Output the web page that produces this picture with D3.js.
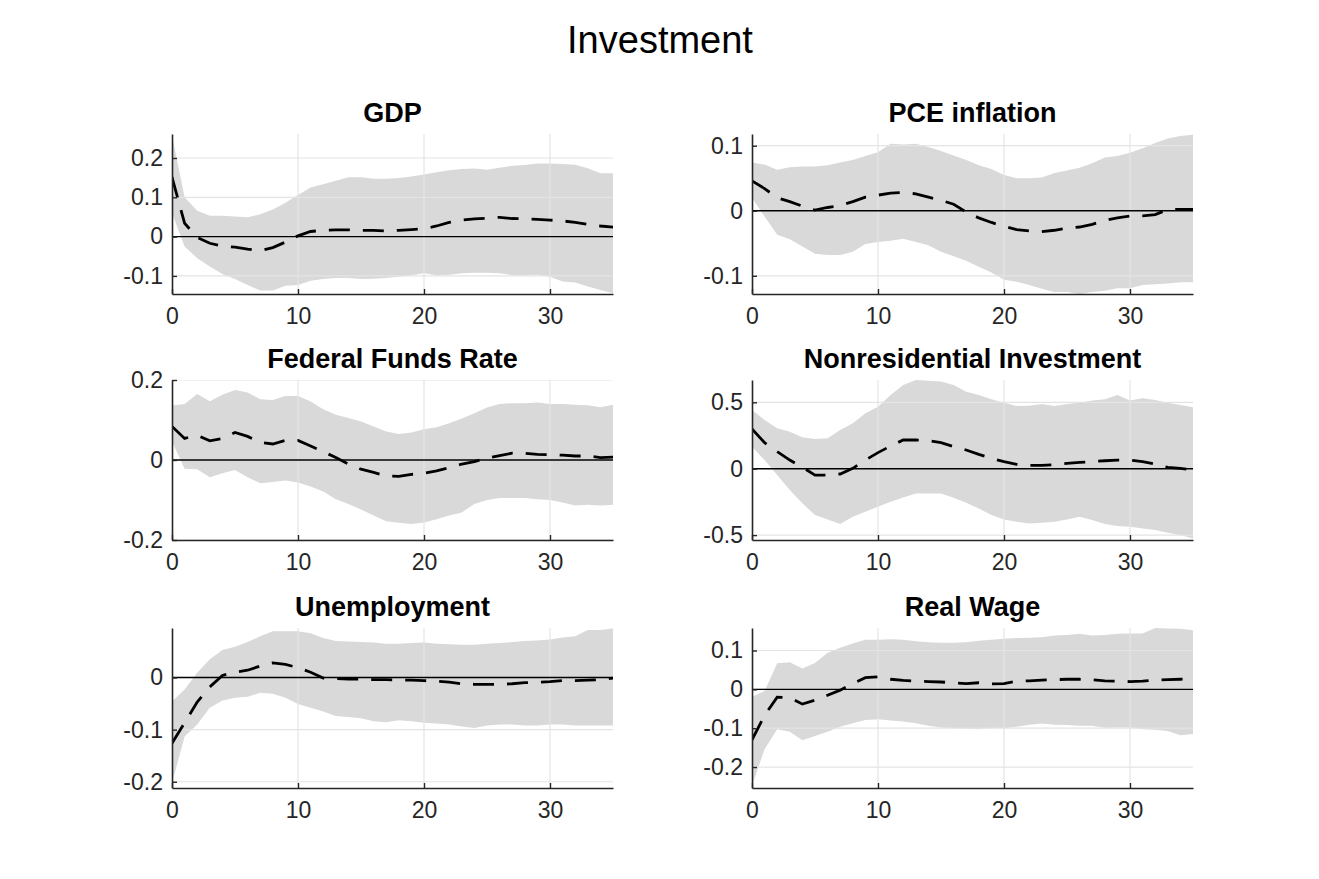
<!DOCTYPE html>
<html>
<head>
<meta charset="utf-8">
<script src="https://cdn.jsdelivr.net/npm/d3@7"></script>
<style>
  html, body { margin: 0; padding: 0; background: #ffffff; }
  svg { display: block; }
  text { font-family: "Liberation Sans", Arial, Helvetica, sans-serif; }
</style>
</head>
<body>
<svg id="chart" width="1319" height="879"></svg>
<script>
// ---------------- DATA ----------------
const figureTitle = "Investment";
const horizons = [0,1,2,3,4,5,6,7,8,9,10,11,12,13,14,15,16,17,18,19,20,21,22,23,24,25,26,27,28,29,30,31,32,33,34,35];
const xTicks = [0, 10, 20, 30];

const panelTitles = ["GDP", "PCE inflation", "Federal Funds Rate", "Nonresidential Investment", "Unemployment", "Real Wage"];

// GDP
const gdpMed = [0.151,0.034,-0.002,-0.017,-0.024,-0.027,-0.032,-0.036,-0.028,-0.014,0.002,0.013,0.016,0.017,0.017,0.016,0.016,0.014,0.016,0.018,0.020,0.027,0.036,0.042,0.045,0.047,0.049,0.046,0.045,0.044,0.042,0.040,0.036,0.031,0.027,0.024];
const gdpLo  = [0.060,-0.025,-0.055,-0.076,-0.095,-0.108,-0.123,-0.137,-0.137,-0.125,-0.123,-0.112,-0.108,-0.105,-0.105,-0.108,-0.107,-0.105,-0.102,-0.098,-0.093,-0.098,-0.097,-0.093,-0.092,-0.092,-0.093,-0.098,-0.098,-0.097,-0.102,-0.114,-0.117,-0.127,-0.136,-0.144];
const gdpHi  = [0.258,0.100,0.066,0.053,0.053,0.051,0.049,0.057,0.069,0.086,0.106,0.125,0.133,0.142,0.151,0.151,0.147,0.147,0.149,0.153,0.158,0.164,0.169,0.172,0.173,0.170,0.175,0.180,0.182,0.186,0.186,0.185,0.183,0.174,0.161,0.161];

// PCE inflation
const pceMed = [0.046,0.034,0.020,0.014,0.007,0.001,0.005,0.008,0.014,0.021,0.024,0.027,0.028,0.026,0.021,0.016,0.010,-0.002,-0.011,-0.018,-0.024,-0.029,-0.031,-0.032,-0.030,-0.027,-0.025,-0.021,-0.015,-0.011,-0.008,-0.008,-0.006,0.002,0.002,0.002];
const pceLo  = [0.020,-0.009,-0.037,-0.044,-0.055,-0.066,-0.068,-0.068,-0.063,-0.051,-0.048,-0.046,-0.043,-0.048,-0.053,-0.063,-0.070,-0.077,-0.086,-0.095,-0.106,-0.109,-0.114,-0.120,-0.125,-0.125,-0.128,-0.125,-0.123,-0.119,-0.119,-0.114,-0.113,-0.112,-0.110,-0.110];
const pceHi  = [0.074,0.071,0.063,0.067,0.068,0.068,0.070,0.074,0.078,0.084,0.090,0.103,0.102,0.103,0.098,0.092,0.085,0.078,0.070,0.064,0.055,0.050,0.050,0.051,0.058,0.062,0.066,0.073,0.082,0.084,0.089,0.096,0.104,0.111,0.115,0.117];

// Federal Funds Rate
const ffrMed = [0.084,0.054,0.062,0.048,0.054,0.069,0.059,0.044,0.040,0.049,0.049,0.035,0.021,0.006,-0.010,-0.023,-0.031,-0.040,-0.041,-0.036,-0.033,-0.027,-0.019,-0.010,-0.004,0.005,0.011,0.017,0.017,0.014,0.013,0.012,0.010,0.010,0.006,0.007];
const ffrLo  = [0.046,-0.022,-0.023,-0.043,-0.033,-0.025,-0.043,-0.058,-0.055,-0.051,-0.056,-0.066,-0.079,-0.098,-0.110,-0.124,-0.139,-0.153,-0.157,-0.160,-0.156,-0.148,-0.139,-0.131,-0.110,-0.100,-0.095,-0.095,-0.095,-0.098,-0.100,-0.106,-0.114,-0.112,-0.114,-0.112];
const ffrHi  = [0.136,0.140,0.165,0.147,0.163,0.175,0.169,0.152,0.150,0.160,0.160,0.146,0.127,0.113,0.105,0.096,0.084,0.071,0.065,0.069,0.077,0.082,0.092,0.104,0.117,0.131,0.140,0.142,0.142,0.144,0.140,0.140,0.138,0.137,0.132,0.138];

// Nonresidential Investment
const nriMed = [0.299,0.196,0.128,0.065,0.010,-0.048,-0.048,-0.040,0.003,0.065,0.121,0.171,0.216,0.216,0.211,0.196,0.166,0.141,0.108,0.078,0.053,0.033,0.025,0.025,0.030,0.040,0.048,0.053,0.060,0.065,0.065,0.053,0.035,0.010,0.003,-0.010];
const nriLo  = [0.166,0.065,-0.048,-0.161,-0.261,-0.349,-0.382,-0.417,-0.362,-0.324,-0.286,-0.249,-0.216,-0.186,-0.186,-0.186,-0.219,-0.256,-0.299,-0.349,-0.382,-0.400,-0.412,-0.407,-0.400,-0.382,-0.362,-0.387,-0.417,-0.432,-0.437,-0.450,-0.462,-0.482,-0.500,-0.525];
const nriHi  = [0.442,0.367,0.304,0.279,0.236,0.224,0.229,0.291,0.342,0.417,0.467,0.555,0.630,0.668,0.663,0.656,0.630,0.580,0.555,0.523,0.497,0.472,0.475,0.487,0.472,0.487,0.497,0.513,0.523,0.555,0.513,0.530,0.518,0.497,0.480,0.462];

// Unemployment
const unMed = [-0.126,-0.087,-0.047,-0.018,0.004,0.010,0.014,0.022,0.028,0.025,0.019,0.010,-0.001,-0.002,-0.003,-0.003,-0.004,-0.004,-0.005,-0.005,-0.006,-0.007,-0.009,-0.012,-0.013,-0.013,-0.013,-0.012,-0.010,-0.009,-0.008,-0.006,-0.006,-0.005,-0.004,-0.001];
const unLo  = [-0.203,-0.113,-0.090,-0.058,-0.044,-0.039,-0.037,-0.029,-0.031,-0.039,-0.051,-0.058,-0.065,-0.074,-0.076,-0.078,-0.084,-0.086,-0.082,-0.084,-0.087,-0.088,-0.090,-0.094,-0.097,-0.092,-0.090,-0.090,-0.092,-0.092,-0.090,-0.090,-0.092,-0.092,-0.092,-0.092];
const unHi  = [-0.046,-0.023,0.009,0.035,0.053,0.059,0.068,0.079,0.089,0.089,0.089,0.085,0.076,0.070,0.069,0.068,0.067,0.065,0.065,0.066,0.067,0.065,0.064,0.063,0.063,0.065,0.066,0.068,0.070,0.071,0.073,0.077,0.079,0.091,0.091,0.094];

// Real Wage
const rwMed = [-0.130,-0.067,-0.020,-0.021,-0.038,-0.028,-0.015,-0.002,0.015,0.030,0.032,0.026,0.023,0.021,0.020,0.019,0.017,0.015,0.017,0.014,0.015,0.021,0.022,0.024,0.025,0.026,0.026,0.025,0.022,0.021,0.020,0.021,0.024,0.025,0.026,0.027];
const rwLo  = [-0.248,-0.154,-0.103,-0.109,-0.131,-0.120,-0.109,-0.096,-0.087,-0.079,-0.077,-0.080,-0.083,-0.087,-0.094,-0.098,-0.100,-0.101,-0.103,-0.099,-0.100,-0.096,-0.091,-0.088,-0.091,-0.092,-0.094,-0.094,-0.099,-0.098,-0.098,-0.103,-0.104,-0.107,-0.118,-0.115];
const rwHi  = [-0.019,-0.004,0.067,0.070,0.054,0.068,0.094,0.107,0.118,0.128,0.128,0.129,0.128,0.124,0.121,0.120,0.120,0.121,0.125,0.128,0.130,0.132,0.133,0.134,0.139,0.140,0.143,0.139,0.140,0.143,0.144,0.144,0.158,0.157,0.156,0.152];

// y-axis limits and ticks of each panel
const yDomains = [[-0.146, 0.261], [-0.128, 0.118], [-0.2, 0.2], [-0.537, 0.668], [-0.212, 0.095], [-0.254, 0.158]];
const yTicks = [[-0.1, 0, 0.1, 0.2], [-0.1, 0, 0.1], [-0.2, 0, 0.2], [-0.5, 0, 0.5], [-0.2, -0.1, 0], [-0.2, -0.1, 0, 0.1]];

const medians = [gdpMed, pceMed, ffrMed, nriMed, unMed, rwMed];
const lowers  = [gdpLo, pceLo, ffrLo, nriLo, unLo, rwLo];
const uppers  = [gdpHi, pceHi, ffrHi, nriHi, unHi, rwHi];

// ---------------- LAYOUT ----------------
const colLeft = [172, 752];
const plotW = 441;
const rowTop = [134, 380, 628];
const plotH = 160;

const svg = d3.select("#chart");

svg.append("text")
  .attr("x", 660).attr("y", 53)
  .attr("text-anchor", "middle")
  .attr("font-size", 38)
  .attr("fill", "#000")
  .text(figureTitle);

const fmt = v => {
  if (Math.abs(v) < 1e-9) return "0";
  return (v < 0 ? "-" : "") + String(+Math.abs(v).toFixed(2));
};

panelTitles.forEach((title, i) => {
  const col = i % 2, row = Math.floor(i / 2);
  const left = colLeft[col], top = rowTop[row];
  const g = svg.append("g").attr("transform", `translate(${left},${top})`);

  const x = d3.scaleLinear().domain([0, 35]).range([0, plotW]);
  const y = d3.scaleLinear().domain(yDomains[i]).range([plotH, 0]);

  const lo = lowers[i], hi = uppers[i], med = medians[i];
  const bandData = horizons.map((h, k) => ({ h, lo: lo[k], hi: hi[k] }));

  const clipId = "clip" + i;
  g.append("clipPath").attr("id", clipId)
    .append("rect").attr("x", 0).attr("y", 0).attr("width", plotW).attr("height", plotH);

  const plot = g.append("g").attr("clip-path", `url(#${clipId})`);

  // band
  plot.append("path")
    .datum(bandData)
    .attr("fill", "#d9d9d9")
    .attr("stroke", "none")
    .attr("d", d3.area().x(d => x(d.h)).y0(d => y(d.lo)).y1(d => y(d.hi)));

  // grid
  plot.append("g").selectAll("line")
    .data(xTicks.filter(t => t > 0))
    .join("line")
    .attr("x1", d => x(d)).attr("x2", d => x(d))
    .attr("y1", 0).attr("y2", plotH)
    .attr("stroke", "#e4e4e4").attr("stroke-width", 1.2);
  plot.append("g").selectAll("line")
    .data(yTicks[i])
    .join("line")
    .attr("x1", 0).attr("x2", plotW)
    .attr("y1", d => y(d)).attr("y2", d => y(d))
    .attr("stroke", "#e4e4e4").attr("stroke-width", 1.2);

  // zero line
  plot.append("line")
    .attr("x1", 0).attr("x2", plotW)
    .attr("y1", y(0)).attr("y2", y(0))
    .attr("stroke", "#000").attr("stroke-width", 1.4);

  // median
  plot.append("path")
    .datum(horizons.map((h, k) => ({ h, v: med[k] })))
    .attr("fill", "none")
    .attr("stroke", "#000")
    .attr("stroke-width", 2.8)
    .attr("stroke-dasharray", "21,13")
    .attr("d", d3.line().x(d => x(d.h)).y(d => y(d.v)));

  // axes
  const xAxis = d3.axisBottom(x).tickValues(xTicks).tickFormat(d3.format("d"))
    .tickSizeInner(-5).tickSizeOuter(0).tickPadding(14);
  const gx = g.append("g").attr("transform", `translate(0,${plotH})`).call(xAxis);
  const yAxis = d3.axisLeft(y).tickValues(yTicks[i]).tickFormat(fmt)
    .tickSizeInner(-5).tickSizeOuter(0).tickPadding(9);
  const gy = g.append("g").call(yAxis);

  [gx, gy].forEach(a => {
    a.select(".domain").attr("stroke", "#262626").attr("stroke-width", 1.6);
    a.selectAll(".tick line").attr("stroke", "#262626").attr("stroke-width", 1.4);
    a.selectAll(".tick text").attr("fill", "#262626").attr("font-size", 23)
      .attr("font-family", "'Liberation Sans', Arial, Helvetica, sans-serif");
  });
  gx.selectAll(".tick text").attr("dy", "0.71em");

  // panel title
  g.append("text")
    .attr("x", plotW / 2).attr("y", -12)
    .attr("text-anchor", "middle")
    .attr("font-size", 27)
    .attr("font-weight", "bold")
    .attr("fill", "#000")
    .text(title);
});
</script>
</body>
</html>
